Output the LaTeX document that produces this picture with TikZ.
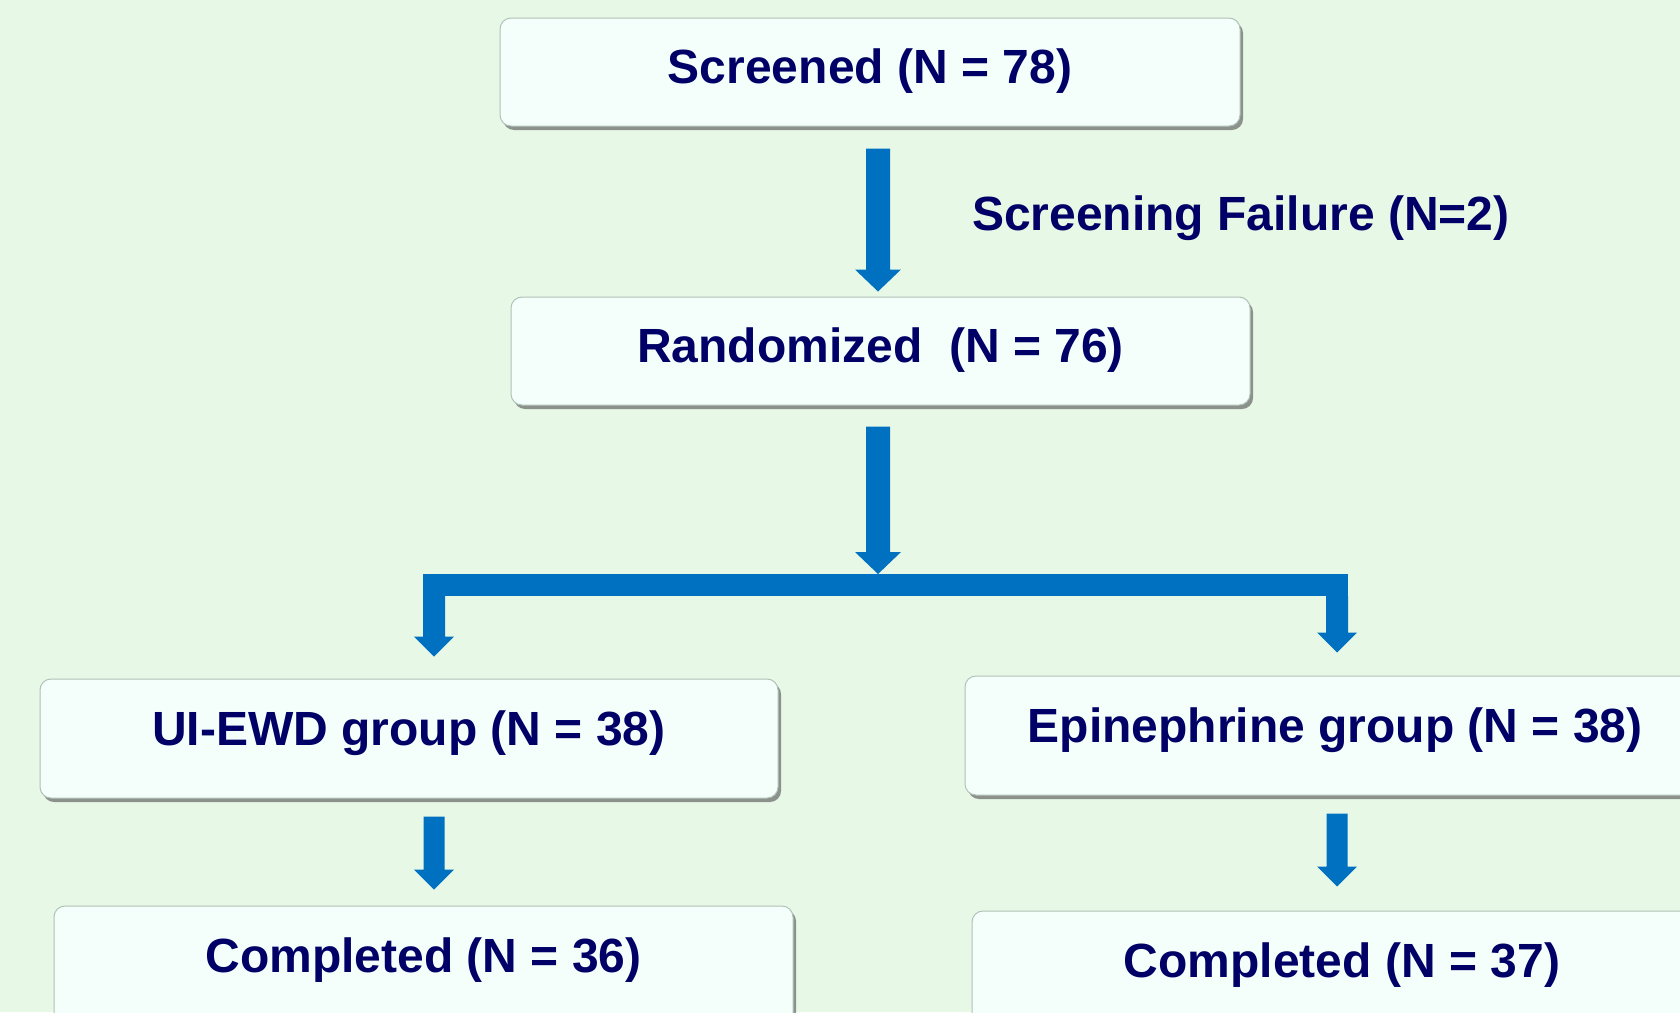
\documentclass[tikz,border=0pt]{standalone}
\usepackage{fontspec}
\setmainfont{Liberation Sans}
\usetikzlibrary{calc,shadows}
\definecolor{bgc}{HTML}{E7F8E6}
\definecolor{boxc}{HTML}{F4FFFC}
\definecolor{edgec}{HTML}{AFC2B8}
\definecolor{navy}{HTML}{000066}
\definecolor{arrowc}{HTML}{0070C0}
\newcommand\blockarrow[5]{%
  \fill[arrowc] let \p1=(#1), \p2=(#2) in
   (\x1-#3,\y1) -- (\x1+#3,\y1) -- (\x1+#3,\y2+#5) -- (\x1+#4,\y2+#5)
   -- (\x1,\y2) -- (\x1-#4,\y2+#5) -- (\x1-#3,\y2+#5) -- cycle;}
\tikzset{
  flowbox/.style={draw=edgec, line width=1pt, fill=boxc, rounded corners=11pt,
    inner xsep=0pt, inner ysep=0pt, minimum width=740pt,
    font=\fontsize{48}{58}\selectfont\bfseries, text=navy,
    drop shadow={shadow xshift=3pt, shadow yshift=-4pt, fill=black!60, opacity=0.7}},
  shortbox/.style={flowbox, text height=65pt, text depth=43pt},
  tallbox/.style={flowbox, text height=66.5pt, text depth=52.5pt},
  note/.style={font=\fontsize{48}{58}\selectfont\bfseries, text=navy, inner sep=0pt}
}
\begin{document}
\begin{tikzpicture}[x=1pt,y=-1pt]
\fill[bgc] (0,0) rectangle (1680,1012);
\useasboundingbox (0,0) rectangle (1680,1012);
\clip (0,0) rectangle (1680,1012);

\node[shortbox] (scr) at (870,72) {Screened (N = 78)};
\node[shortbox, minimum width=739pt] (rand) at (880.5,351) {Randomized~ (N = 76)};
\node[tallbox, minimum width=738pt] (ui) at (409,738.5) {UI-EWD group (N = 38)};
\node[tallbox] (epi) at (1335,735.5) {Epinephrine group (N = 38)};
\node[tallbox, minimum width=739pt] (c36) at (423.5,965.5) {Completed (N = 36)};
\node[tallbox] (c37) at (1342,970.5) {Completed (N = 37)};

\node[note, anchor=base west] (fail) at (972,230) {Screening Failure (N=2)};

% arrow screened -> randomized
\coordinate (a1s) at ($(scr.south)+(8,22)$);
\coordinate (a1e) at ($(rand.north)+(-2.5,-5)$);
\blockarrow{a1s}{a1e}{12pt}{23pt}{22pt}

% arrow randomized -> split
\coordinate (a2s) at ($(rand.south)+(-2.5,21)$);
\coordinate (split) at (878,574);
\blockarrow{a2s}{split}{12pt}{23pt}{22pt}

% branch bar
\coordinate (bl) at (434,585);
\coordinate (br) at (1337,585);
\draw[arrowc, line width=22pt] ($(bl)+(-11,0)$) -- ($(br)+(11,0)$);

% branch arrows
\coordinate (bls) at ($(bl)+(0,11)$);
\coordinate (ble) at ($(ui.north -| bl)+(0,-22)$);
\blockarrow{bls}{ble}{11pt}{20pt}{20pt}
\coordinate (brs) at ($(br)+(0,11)$);
\coordinate (bre) at ($(epi.north -| br)+(0,-23)$);
\blockarrow{brs}{bre}{11pt}{20pt}{20pt}

% arrows to completed
\coordinate (a3s) at ($(ui.south -| bl)+(0,18)$);
\coordinate (a3e) at ($(c36.north -| bl)+(0,-16)$);
\blockarrow{a3s}{a3e}{10.5pt}{20pt}{20pt}
\coordinate (a4s) at ($(epi.south -| br)+(0,18)$);
\coordinate (a4e) at ($(c37.north -| br)+(0,-24)$);
\blockarrow{a4s}{a4e}{10.5pt}{20pt}{20pt}
\end{tikzpicture}
\end{document}
